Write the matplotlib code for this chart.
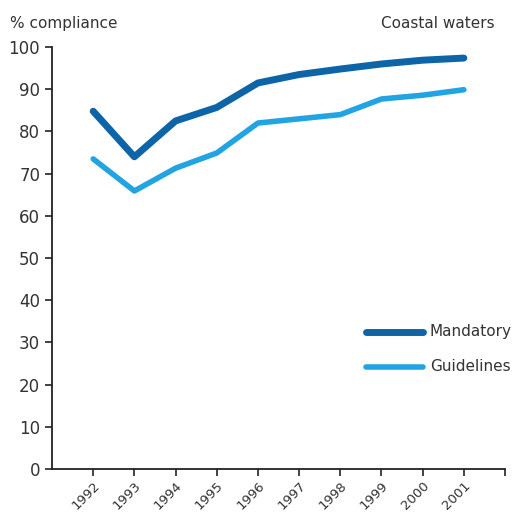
import matplotlib.pyplot as plt
import numpy as np

years = [1992, 1993, 1994, 1995, 1996, 1997, 1998, 1999, 2000, 2001]
mandatory = [84.8, 74.0, 82.5, 85.7, 91.5, 93.5, 94.8, 96.0, 96.9, 97.4]
guidelines = [73.5, 65.9, 71.3, 74.9, 82.0, 83.0, 84.0, 87.7, 88.6, 89.9]

dark_blue = '#0d64a6'
light_blue = '#22a4e2'

fig = plt.figure(figsize=(5.18, 5.12), dpi=100)
ax = fig.add_axes([0.1004, 0.084, 0.8746, 0.824])

ax.plot(years, mandatory, color=dark_blue, lw=5, solid_capstyle='round', solid_joinstyle='round')
ax.plot(years, guidelines, color=light_blue, lw=4, solid_capstyle='round', solid_joinstyle='round')

ax.set_xlim(1991, 2002)
ax.set_ylim(0, 100)
ax.set_yticks(range(0, 101, 10))
ax.set_xticks(years + [2002])
ax.set_xticklabels([str(y) for y in years] + [''], rotation=45, ha='right',
                   rotation_mode='anchor', fontsize=9.5, color='#333333')
ax.tick_params(axis='y', labelsize=12, color='#222222', labelcolor='#333333', length=5, width=1.2)
ax.tick_params(axis='x', color='#222222', length=5, width=1.2, pad=2)

for s in ['top', 'right']:
    ax.spines[s].set_visible(False)
for s in ['left', 'bottom']:
    ax.spines[s].set_linewidth(1.3)
    ax.spines[s].set_color('#222222')

fig.text(0.02, 0.945, '% compliance', fontsize=11, color='#333333')
fig.text(0.955, 0.945, 'Coastal waters', fontsize=11, color='#333333', ha='right')

# legend drawn by hand
ax.plot([1998.62, 2000.0], [32.5, 32.5], color=dark_blue, lw=5, solid_capstyle='round')
ax.plot([1998.62, 2000.0], [24.2, 24.2], color=light_blue, lw=4, solid_capstyle='round')
ax.text(2000.17, 32.5, 'Mandatory', fontsize=11, color='#333333', va='center')
ax.text(2000.17, 24.2, 'Guidelines', fontsize=11, color='#333333', va='center')

fig.savefig('out.png', dpi=100)
